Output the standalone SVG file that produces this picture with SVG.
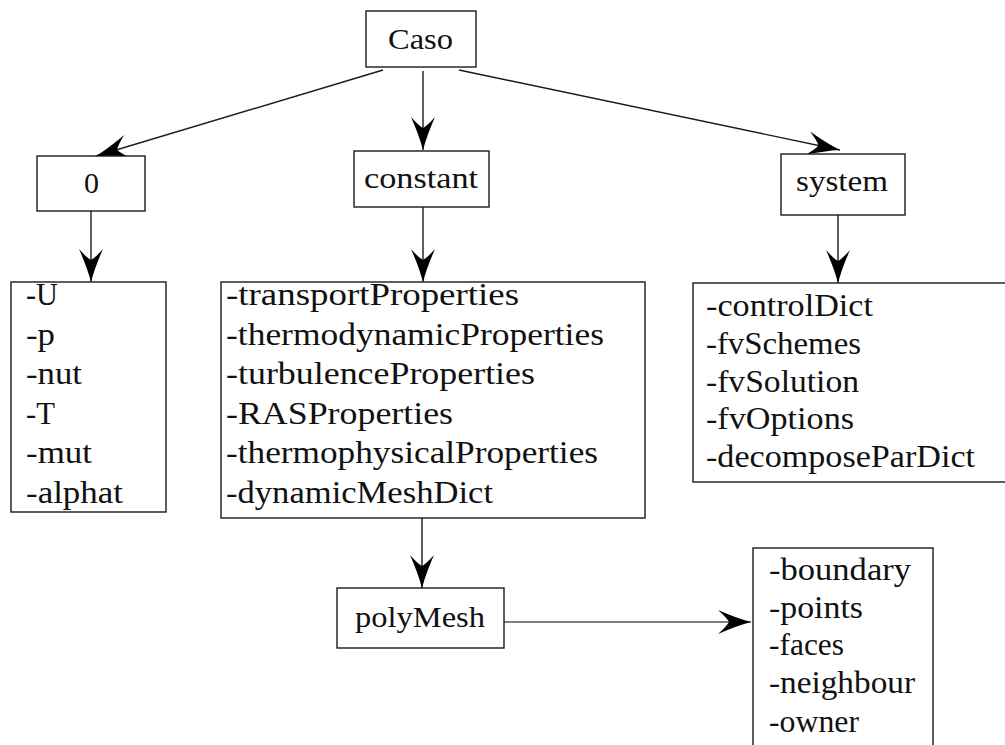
<svg xmlns="http://www.w3.org/2000/svg" width="1005" height="745" viewBox="0 0 1005 745">
<style>
  .box { fill: #fff; stroke: #1a1a1a; stroke-width: 1.4; }
  .lbl { font-family: 'Liberation Serif', 'DejaVu Serif', serif; font-size: 30px; fill: #111; }
  .itm { font-family: 'Liberation Serif', 'DejaVu Serif', serif; font-size: 32px; fill: #111; }
  .edge { fill: none; stroke: #1a1a1a; stroke-width: 1.4; marker-end: url(#head); }
</style>
<defs>
  <marker id="head" markerUnits="userSpaceOnUse" markerWidth="40" markerHeight="30" refX="0" refY="0" orient="auto" viewBox="-36 -15 40 30" overflow="visible">
    <path d="M0,0 Q-15,-4 -33,-12 Q-24,-4 -22,0 Q-24,4 -33,12 Q-15,4 0,0 Z" fill="#000"/>
  </marker>
</defs>
<rect x="0" y="0" width="1005" height="745" fill="#fff"/>

<g id="connectors">
  <line class="edge" x1="383" y1="70" x2="96" y2="156"/>
  <line class="edge" x1="423" y1="71" x2="423" y2="150"/>
  <line class="edge" x1="459" y1="70" x2="840" y2="150"/>
  <line class="edge" x1="91" y1="211" x2="91" y2="282"/>
  <line class="edge" x1="423" y1="207" x2="423" y2="282"/>
  <line class="edge" x1="838" y1="215" x2="838" y2="283"/>
  <line class="edge" x1="422" y1="518" x2="422" y2="588"/>
  <line class="edge" x1="504" y1="622" x2="751" y2="622" style="stroke:#555"/>
</g>

<g id="caso">
  <rect class="box" x="366" y="11" width="110" height="56"/>
  <text class="lbl" x="388" y="49" textLength="65" lengthAdjust="spacingAndGlyphs">Caso</text>
</g>
<g id="zero">
  <rect class="box" x="37" y="156" width="108" height="55"/>
  <text class="lbl" x="84" y="193" textLength="15" lengthAdjust="spacingAndGlyphs">0</text>
</g>
<g id="constant">
  <rect class="box" x="354" y="151" width="135" height="56"/>
  <text class="lbl" x="364" y="188" textLength="114" lengthAdjust="spacingAndGlyphs">constant</text>
</g>
<g id="system">
  <rect class="box" x="781" y="154" width="124" height="61"/>
  <text class="lbl" x="796" y="191" textLength="92" lengthAdjust="spacingAndGlyphs">system</text>
</g>

<g id="zero-files">
  <rect class="box" x="11" y="282" width="155" height="230"/>
  <text class="itm" x="26" y="305" textLength="32" lengthAdjust="spacingAndGlyphs">-U</text>
  <text class="itm" x="26" y="344.6" textLength="29" lengthAdjust="spacingAndGlyphs">-p</text>
  <text class="itm" x="26" y="384.2" textLength="56" lengthAdjust="spacingAndGlyphs">-nut</text>
  <text class="itm" x="26" y="423.8" textLength="29" lengthAdjust="spacingAndGlyphs">-T</text>
  <text class="itm" x="26" y="463.4" textLength="66" lengthAdjust="spacingAndGlyphs">-mut</text>
  <text class="itm" x="26" y="503" textLength="97" lengthAdjust="spacingAndGlyphs">-alphat</text>
</g>

<g id="constant-files">
  <rect class="box" x="221" y="282" width="424" height="236"/>
  <text class="itm" x="226" y="305" textLength="293" lengthAdjust="spacingAndGlyphs">-transportProperties</text>
  <text class="itm" x="226" y="344.6" textLength="378" lengthAdjust="spacingAndGlyphs">-thermodynamicProperties</text>
  <text class="itm" x="226" y="384.2" textLength="309" lengthAdjust="spacingAndGlyphs">-turbulenceProperties</text>
  <text class="itm" x="226" y="423.8" textLength="227" lengthAdjust="spacingAndGlyphs">-RASProperties</text>
  <text class="itm" x="226" y="463.4" textLength="372" lengthAdjust="spacingAndGlyphs">-thermophysicalProperties</text>
  <text class="itm" x="226" y="503" textLength="267" lengthAdjust="spacingAndGlyphs">-dynamicMeshDict</text>
</g>

<g id="system-files">
  <rect class="box" x="693" y="283" width="330" height="199"/>
  <text class="itm" x="706" y="316" textLength="167" lengthAdjust="spacingAndGlyphs">-controlDict</text>
  <text class="itm" x="706" y="353.8" textLength="155" lengthAdjust="spacingAndGlyphs">-fvSchemes</text>
  <text class="itm" x="706" y="391.5" textLength="153" lengthAdjust="spacingAndGlyphs">-fvSolution</text>
  <text class="itm" x="706" y="429.3" textLength="148" lengthAdjust="spacingAndGlyphs">-fvOptions</text>
  <text class="itm" x="706" y="467" textLength="269" lengthAdjust="spacingAndGlyphs">-decomposeParDict</text>
</g>

<g id="polymesh">
  <rect class="box" x="337" y="588" width="167" height="60"/>
  <text class="lbl" x="355" y="627" textLength="130" lengthAdjust="spacingAndGlyphs">polyMesh</text>
</g>

<g id="polymesh-files">
  <rect class="box" x="753" y="548" width="180" height="215"/>
  <text class="itm" x="769" y="580" textLength="142" lengthAdjust="spacingAndGlyphs">-boundary</text>
  <text class="itm" x="769" y="618" textLength="94" lengthAdjust="spacingAndGlyphs">-points</text>
  <text class="itm" x="769" y="655" textLength="75" lengthAdjust="spacingAndGlyphs">-faces</text>
  <text class="itm" x="769" y="693" textLength="146" lengthAdjust="spacingAndGlyphs">-neighbour</text>
  <text class="itm" x="769" y="732" textLength="90" lengthAdjust="spacingAndGlyphs">-owner</text>
</g>
</svg>
